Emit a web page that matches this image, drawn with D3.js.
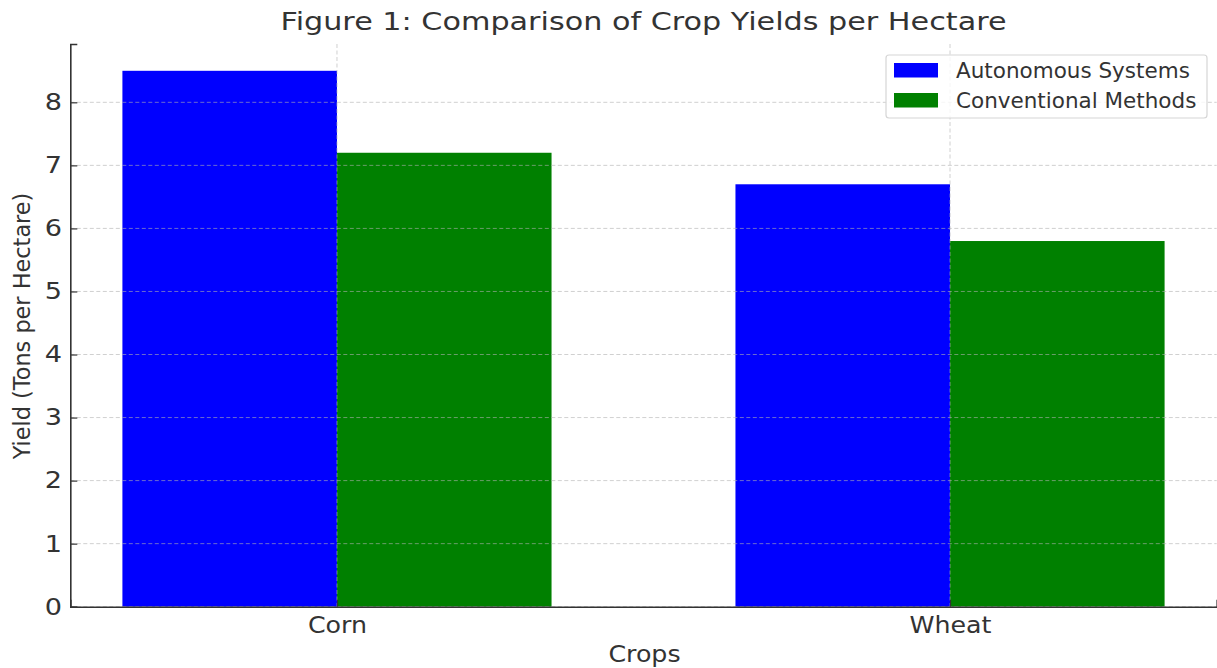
<!DOCTYPE html>
<html><head><meta charset="utf-8">
<script src="https://cdn.jsdelivr.net/npm/d3@7"></script>
<style>body{margin:0;background:#fff}svg{display:block}text{font-family:"DejaVu Sans",sans-serif;fill:#333}</style>
</head><body><svg id="c" width="1217" height="668"></svg>
<script>
const categories = ["Corn", "Wheat"];
const seriesNames = ["Autonomous Systems", "Conventional Methods"];
const autonomous = [8.5, 6.7];
const conventional = [7.2, 5.8];
const yTicks = [0, 1, 2, 3, 4, 5, 6, 7, 8];
const colors = ["#0000ff", "#008000"];

const svg = d3.select("#c");
const L = 70.3, R = 1216.7, T = 44, B = 606.7;
const x = d3.scaleLinear().domain([-0.435, 1.435]).range([L, R]);
const y = d3.scaleLinear().domain([0, 8.925]).range([B, T]);
const bw = 0.35;
const series = [autonomous, conventional];

// bars
series.forEach((vals, si) => {
  svg.append("g").selectAll("rect").data(vals).join("rect")
    .attr("x", (d, i) => x(i + (si === 0 ? -bw : 0)))
    .attr("width", x(bw) - x(0))
    .attr("y", d => y(d))
    .attr("height", d => y(0) - y(d))
    .attr("fill", colors[si]);
});

// grid on top
const grid = svg.append("g").attr("stroke", "#b0b0b0").attr("stroke-opacity", 0.6).attr("stroke-dasharray", "4,2.5").attr("stroke-width", 1);
grid.selectAll("line.h").data(yTicks).join("line").attr("class", "h")
  .attr("x1", L).attr("x2", R).attr("y1", d => y(d)).attr("y2", d => y(d));
grid.selectAll("line.v").data(categories).join("line").attr("class", "v")
  .attr("x1", (d, i) => x(i)).attr("x2", (d, i) => x(i)).attr("y1", T).attr("y2", B);

// axes
const yAxis = d3.axisLeft(y).tickValues(yTicks).tickSize(-7).tickPadding(7).tickFormat(d3.format("d"));
const gy = svg.append("g").attr("transform", `translate(${L},0)`).call(yAxis);
gy.select(".domain").attr("stroke", "#333").attr("stroke-width", 1.6);
gy.selectAll(".tick line").attr("stroke", "#333").attr("stroke-width", 1.2);
gy.selectAll(".tick text").style("font-size", "23px").style("fill", "#333").attr("font-family", null)
  .attr("transform", "scale(1.18,1)");

const xAxis = d3.axisBottom(x).tickValues([0, 1]).tickSize(-7).tickPadding(10).tickFormat((d, i) => categories[i]);
const gx = svg.append("g").attr("transform", `translate(0,${B})`).call(xAxis);
gx.select(".domain").attr("stroke", "#333").attr("stroke-width", 1.6);
gx.selectAll(".tick line").attr("stroke", "#333").attr("stroke-width", 1.2);
gx.selectAll(".tick text").style("font-size", "23px").style("fill", "#333").attr("font-family", null)
  .attr("transform", "scale(1.1,1)");

// titles
svg.append("text").attr("transform", "translate(643.5,30) scale(1.26,1)").attr("text-anchor", "middle").style("font-size", "24px")
  .text("Figure 1: Comparison of Crop Yields per Hectare");
svg.append("text").attr("transform", "translate(644.5,662) scale(1.1,1)").attr("text-anchor", "middle").style("font-size", "23px").text("Crops");
svg.append("text").attr("transform", "translate(29.5,326) rotate(-90)").attr("text-anchor", "middle").style("font-size", "22.4px").text("Yield (Tons per Hectare)");

// legend
const lg = svg.append("g");
lg.append("rect").attr("x", 886).attr("y", 55).attr("width", 321).attr("height", 63).attr("rx", 3)
  .attr("fill", "#fff").attr("fill-opacity", 0.8).attr("stroke", "#d6d6d6").attr("stroke-width", 1.2);
seriesNames.forEach((n, i) => {
  lg.append("rect").attr("x", 894).attr("y", 63 + i * 30).attr("width", 44).attr("height", 14.5).attr("fill", colors[i]);
  lg.append("text").attr("x", 956).attr("y", 77.5 + i * 30).style("font-size", "21.5px").text(n);
});
</script></body></html>
